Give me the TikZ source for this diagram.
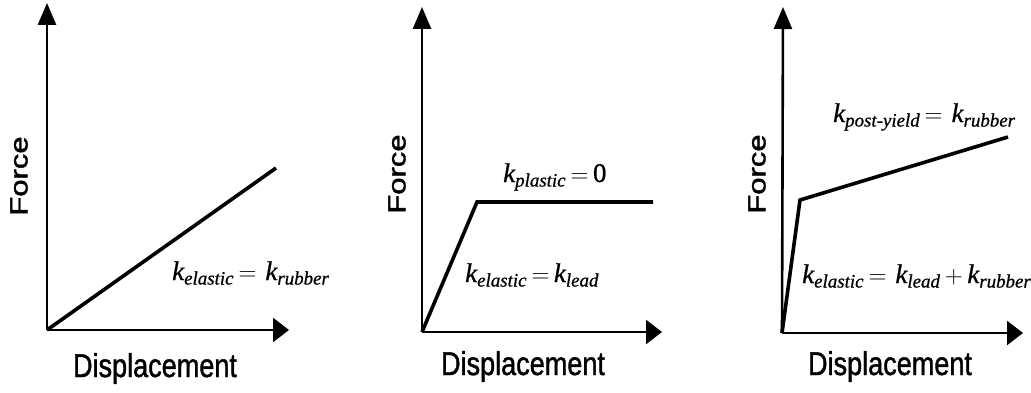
\documentclass[tikz,border=0pt]{standalone}
\usepackage{amsmath}
\usepackage{fontspec}
\setmainfont{Liberation Sans}
\newfontfamily\axfont[FakeBold=1.4]{Liberation Sans}
\newfontfamily\eqfont[FakeBold=0.8]{Liberation Serif}
\usetikzlibrary{arrows.meta,positioning}

\tikzset{
  axis/.style={line width=2.6pt},
  yaxis/.style={axis, -{Triangle[length=22pt,width=18pt]}},
  xaxis/.style={axis, -{Triangle[length=16pt,width=24pt]}},
  curve/.style={line width=3.6pt},
  forcelab/.style={inner sep=0pt, font=\fontsize{31}{31}\selectfont\axfont},
  displab/.style={anchor=base, inner sep=0pt, font=\fontsize{33}{33}\selectfont\axfont},
  eqlab/.style={anchor=base west, inner sep=0pt, font=\fontsize{27}{27}\selectfont\eqfont\itshape}
}
\newcommand{\forcetext}{\rotatebox{90}{\scalebox{1}[0.8]{Force}}}
\newcommand{\disptext}{\scalebox{0.82}[1]{Displacement}}

\begin{document}
\begin{tikzpicture}[x=1pt, y=1pt]
    \useasboundingbox (0,0) rectangle (1031,392);
    % left: elastic rubber
    \coordinate (o1) at (47,62);
    \coordinate (ytip1) at (47,389);
    \coordinate (xtip1) at (289,62);
    \coordinate (end1) at (276,224);
    \draw[yaxis] (o1) -- (ytip1);
    \draw[xaxis] (o1) -- (xtip1);
    \draw[curve] (o1) -- (end1);
    \node[forcelab] (force1) at (19,216) {\forcetext};
    \node[displab] (disp1) at (155,15) {\disptext};
    \node[eqlab] (elastic1) at (172,112) {k$_{\text{elastic}}$\,$=$\,\,k$_{\text{rubber}}$};
    % middle: lead
    \coordinate (o2) at (422,60);
    \coordinate (ytip2) at (422,385);
    \coordinate (xtip2) at (662,60);
    \coordinate (yield2) at (477,190);
    \coordinate (end2) at (653,190);
    \draw[yaxis] (o2) -- (ytip2);
    \draw[xaxis] (o2) -- (xtip2);
    \draw[curve] (o2) -- (yield2) -- (end2);
    \node[forcelab] (force2) at (397,218) {\forcetext};
    \node[displab] (disp2) at (523,17) {\disptext};
    \node[eqlab] (plastic2) at (503,210) {k$_{\text{plastic}}$\,$=$\,\upshape 0};
    \node[eqlab] (elastic2) at (465,110) {k$_{\text{elastic}}$\,$=$\,k$_{\text{lead}}$};
    % right: lead rubber
    \coordinate (o3) at (782,59);
    \coordinate (ytip3) at (783,385);
    \coordinate (xtip3) at (1023,59);
    \coordinate (yield3) at (800,192);
    \coordinate (end3) at (1008,255);
    \draw[yaxis] (o3) -- (ytip3);
    \draw[xaxis] (o3) -- (xtip3);
    \draw[curve] (o3) -- (yield3) -- (end3);
    \node[forcelab] (force3) at (757,218) {\forcetext};
    \node[displab] (disp3) at (890,17) {\disptext};
    \node[eqlab] (post3) at (833,270) {k$_{\text{post-yield}}$\,$=$\,\,k$_{\text{rubber}}$};
    \node[eqlab] (elastic3) at (802,109) {k$_{\text{elastic}}$\,$=$\,\,k$_{\text{lead}}$\,$+$\,k$_{\text{rubber}}$};
\end{tikzpicture}
\end{document}
